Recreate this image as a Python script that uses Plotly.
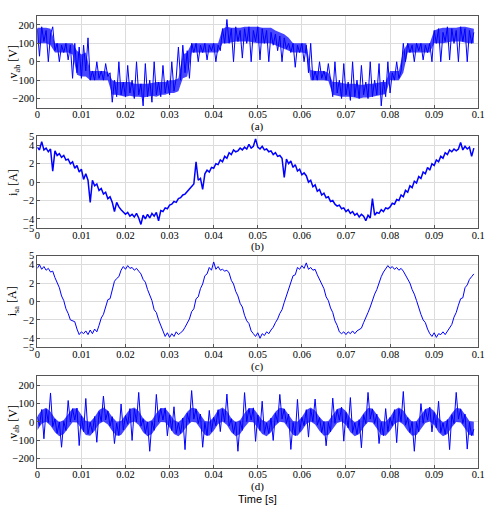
import plotly.graph_objects as go

# sampling step of the read-off values (s)
dt = 0.0005
n_samples = 199
time_s = [round(i * dt, 4) for i in range(n_samples)]
# envelope sampling (s)
dt_env = 0.001
time_env = [round(i * dt_env, 3) for i in range(100)]

# (a) inverter line voltage v_ab [V]
v_ab_a = [180, 30, 190, 110, 170, 0, 150, 190, 60, 100, 0, 90, 50, 100, 10, 90, -90, 100, -60, 80,
          -90, 90, -50, 130, -100, -50, -100, 0, -90, -50, -100, -10, -80, -60, -220, -100, -190, 0, -180, -110,
          -190, -20, -170, -100, -200, 0, -180, -120, -240, -10, -190, -100, -220, 0, -180, -110, -190, -20, -170, -100,
          -180, 0, -160, -90, 80, -100, 90, -60, 60, -90, 100, 50, 100, 0, 90, 50, 100, 10, 90, 60,
          100, 0, 90, 60, 180, 100, 230, 100, 180, 0, 190, 110, 170, 20, 180, 100, 190, 0, 170, 110,
          190, 10, 180, 100, 170, 0, 160, 90, 150, 60, 140, 0, 130, 70, 100, 50, 100, -30, 90, 50,
          100, 0, 90, -60, 100, -100, -50, -100, 0, -90, -50, -100, -10, -110, -190, 0, -170, -100, -200, -10,
          -180, -110, -210, 0, -190, -100, -200, -20, -180, -110, -200, 0, -190, -100, -180, -10, -240, -100, -190, 0,
          -170, -60, -100, 0, -90, -50, 100, 0, 100, 50, 90, 0, 100, 60, 100, 10, 90, 50, 100, 0,
          170, 100, 180, 0, 160, 110, 190, 10, 180, 100, 170, 0, 190, 110, 180, 0, 170, 100, 160]
# dense switching band of (a): upper / lower edge every 1 ms
v_ab_a_hi = [185, 185, 185, 180, 100, 100, 100, 100, 100, 60, 40, 50, -50, -50, -50, -50, -55, -100, -110, -110,
             -110, -110, -120, -120, -120, -120, -115, -110, -110, -110, -100, -100, -90, 40, 50, 100, 100, 100, 100, 100,
             100, 100, 180, 190, 185, 185, 185, 190, 190, 190, 190, 185, 185, 185, 170, 160, 150, 130, 100, 100,
             100, 100, -45, -50, -50, -50, -60, -110, -110, -115, -120, -120, -120, -125, -125, -120, -120, -115, -110, -110,
             -50, -50, -50, 60, 100, 100, 100, 100, 100, 100, 170, 180, 185, 185, 185, 185, 190, 190, 185, 180]
v_ab_a_lo = [100, 100, 100, 90, 50, 50, 50, 50, 40, -70, -80, -80, -100, -100, -100, -100, -100, -180, -180, -185,
             -190, -185, -190, -190, -195, -190, -185, -190, -180, -180, -170, -170, -160, -90, -80, 50, 50, 50, 50, 50,
             50, 50, 100, 100, 105, 110, 110, 110, 110, 105, 100, 100, 100, 100, 90, 80, 70, 60, 50, 50,
             50, 45, -100, -100, -100, -100, -105, -180, -185, -190, -190, -190, -195, -200, -195, -195, -190, -185, -180, -175,
             -100, -100, -100, -60, 50, 50, 50, 50, 50, 50, 100, 100, 100, 105, 110, 110, 110, 105, 100, 100]

# (b) current i_a [A]
i_a = [3.8, 3.5, 4.4, 3.5, 3.7, 3.3, 3.6, 1.2, 3.4, 2.9, 3.1, 2.7, 2.9, 2.4, 2.5, 2.0, 2.2, 1.5, 1.8, 1.1,
       1.4, 0.3, 0.9, 0.2, -2.2, 0.2, -0.4, -0.2, -0.9, -0.7, -1.3, -1.1, -1.8, -1.6, -2.2, -3.2, -2.2, -2.7, -3.0, -3.3,
       -3.5, -3.3, -3.7, -3.5, -3.8, -3.4, -3.9, -4.6, -3.6, -4.0, -3.5, -3.9, -3.4, -3.7, -3.3, -4.2, -3.1, -3.2, -2.8, -2.9,
       -2.5, -2.4, -2.1, -2.2, -1.8, -1.7, -1.4, -1.3, -1.0, -0.8, -0.5, -0.2, 2.2, 0.2, 0.4, -0.8, 0.9, 1.3, 1.1, 1.6,
       1.5, 2.0, 1.9, 2.4, 2.2, 2.8, 2.6, 3.2, 3.0, 3.5, 3.3, 3.4, 3.7, 3.5, 3.8, 3.6, 4.1, 3.7, 3.9, 4.7,
       3.8, 3.6, 3.9, 3.5, 3.6, 3.3, 3.4, 3.0, 3.2, 2.8, 2.9, 2.6, 0.5, 2.5, 2.0, 2.3, 1.6, 1.9, 1.2, 1.4,
       0.8, 1.0, 0.7, 0.0, 0.2, -0.5, -0.3, -1.0, -0.8, -1.4, -1.2, -1.7, -1.6, -2.1, -2.0, -2.4, -2.6, -2.5, -2.9, -2.8,
       -3.2, -3.0, -3.4, -3.2, -3.6, -3.4, -3.8, -3.5, -3.7, -4.2, -3.6, -3.9, -1.8, -3.6, -3.3, -3.4, -3.0, -3.2, -2.8, -2.9,
       -2.7, -2.3, -2.4, -1.9, -2.0, -1.4, -1.6, -0.9, -1.1, -0.4, -0.6, 0.1, -0.1, 0.6, 0.4, 1.1, 0.9, 1.6, 1.3, 2.0,
       1.8, 2.4, 2.2, 2.8, 2.6, 3.2, 3.0, 3.5, 3.3, 3.6, 3.4, 3.6, 4.3, 3.5, 3.9, 3.6, 3.8, 2.8, 3.7]

# (c) current i_sa [A]
i_sa = [3.6, 4.0, 3.5, 3.8, 3.4, 3.6, 3.2, 3.3, 2.6, 2.1, 1.5, 0.6, 0.1, -0.8, -1.3, -2.0, -2.1, -2.2, -3.0, -3.6,
        -3.3, -3.5, -3.2, -3.6, -3.1, -3.5, -3.0, -3.3, -2.6, -1.8, -1.4, -0.5, 0.2, 0.3, 1.2, 2.2, 2.5, 2.7, 3.4, 3.8,
        3.5, 3.9, 3.6, 3.7, 3.4, 3.6, 3.3, 3.0, 2.4, 2.1, 1.3, 0.6, 0.1, -0.9, -1.2, -2.0, -2.6, -3.2, -3.8, -3.4,
        -3.9, -3.5, -3.8, -3.3, -3.6, -3.4, -3.2, -2.8, -2.4, -1.9, -1.1, -0.8, 0.3, 0.5, 1.4, 1.9, 2.8, 3.0, 3.7, 3.4,
        4.3, 3.5, 3.8, 3.4, 3.5, 3.3, 3.4, 3.1, 2.3, 1.9, 1.1, 0.6, -0.2, -0.6, -1.5, -2.1, -2.4, -3.2, -3.5, -3.8,
        -3.4, -4.0, -3.5, -3.7, -3.3, -3.5, -3.1, -2.8, -2.3, -1.9, -1.3, -0.9, -0.1, 0.6, 1.2, 1.9, 2.8, 2.9, 3.7, 3.5,
        3.9, 3.6, 4.2, 3.5, 3.7, 3.4, 3.5, 2.9, 2.4, 1.9, 1.4, 0.5, 0.1, -0.7, -1.2, -2.1, -2.6, -3.3, -3.5, -3.3,
        -3.6, -3.3, -3.5, -3.2, -3.5, -3.2, -3.0, -2.9, -2.3, -1.8, -1.2, -0.6, 0.2, 0.8, 1.3, 2.1, 2.7, 3.2, 3.6, 3.9,
        3.6, 3.8, 3.5, 3.7, 3.4, 3.6, 3.3, 2.9, 2.5, 2.0, 1.3, 0.8, 0.1, -0.7, -1.4, -2.0, -2.3, -3.0, -3.5, -3.8,
        -3.4, -3.9, -3.5, -3.6, -3.3, -3.6, -3.2, -2.9, -2.5, -1.7, -1.2, -0.4, 0.3, 0.4, 1.5, 1.8, 2.4, 2.7, 3.0]

# (d) load voltage [V]
v_ab_d = [27, -20, 67, -92, 69, -3, 157, -26, 16, -63, 0, -138, 2, -47, 116, -1, 71, 10, 75, -129,
          32, -53, 127, -65, -3, -58, 29, -111, 56, 2, 140, 11, 59, -23, 28, -118, -8, -75, 97, -44,
          34, -13, 72, -101, 70, 0, 160, -23, 17, -63, 0, -160, 2, -46, 149, 1, 72, 10, 76, -76,
          37, -47, 82, -63, -5, -63, 21, -151, 47, -3, 170, 15, 70, -9, 42, -138, -3, -75, 62, -53,
          24, -21, 66, -53, 70, 0, 151, -23, 17, -63, 0, -160, 2, -46, 159, 1, 72, 10, 76, -106,
          37, -47, 112, -63, -5, -63, 21, -101, 47, -3, 149, 15, 70, -9, 42, -150, -3, -75, 122, -53,
          24, -21, 66, -83, 70, 1, 124, -18, 23, -58, 2, -130, -3, -54, 129, -8, 67, 9, 80, -105,
          51, -33, 132, -58, -5, -68, 12, -141, 39, -9, 160, 15, 70, -9, 42, -118, -3, -75, 72, -53,
          24, -21, 66, -113, 70, 1, 165, -18, 23, -58, 2, -160, -3, -54, 99, -8, 67, 9, 80, -55,
          51, -33, 112, -58, -5, -68, 12, -151, 39, -9, 160, 15, 70, -9, 42, -148, -3, -75, -40]
# dense switching band of (d): upper / lower edge every 1 ms
v_ab_d_hi = [30, 65, 77, 55, 19, -2, 10, 44, 74, 73, 40, 5, 0, 27, 64, 78, 62, 26, 0, 5,
             37, 70, 78, 59, 20, -2, 10, 47, 75, 74, 45, 10, -2, 19, 55, 77, 73, 40, 5, 0,
             27, 64, 78, 59, 20, -2, 10, 47, 75, 74, 45, 10, -2, 19, 55, 77, 73, 40, 5, 0,
             27, 64, 78, 62, 26, 0, 5, 37, 70, 78, 59, 20, -2, 10, 47, 75, 73, 40, 5, 0,
             27, 64, 78, 62, 26, 0, 5, 37, 70, 78, 59, 20, -2, 10, 47, 75, 73, 40, 5, 0]
v_ab_d_lo = [-46, -11, 1, -21, -57, -78, -66, -32, -2, -3, -36, -71, -76, -49, -12, 2, -14, -50, -76, -71,
             -39, -6, 2, -17, -56, -78, -66, -29, -1, -2, -31, -66, -78, -57, -21, 1, -3, -36, -71, -76,
             -49, -12, 2, -17, -56, -78, -66, -29, -1, -2, -31, -66, -78, -57, -21, 1, -3, -36, -71, -76,
             -49, -12, 2, -14, -50, -76, -71, -39, -6, 2, -17, -56, -78, -66, -29, -1, -3, -36, -71, -76,
             -49, -12, 2, -14, -50, -76, -71, -39, -6, 2, -17, -56, -78, -66, -29, -1, -3, -36, -71, -76]

x_ticks = [0, 0.01, 0.02, 0.03, 0.04, 0.05, 0.06, 0.07, 0.08, 0.09, 0.1]
x_tick_text = ["0", "0.01", "0.02", "0.03", "0.04", "0.05", "0.06", "0.07", "0.08", "0.09", "0.1"]
v_ticks = [-200, -100, 0, 100, 200]
i_ticks = [-5, -4, -2, 0, 2, 4, 5]
captions = ["(a)", "(b)", "(c)", "(d)"]
y_titles = ["v<sub>ab</sub> [V]", "i<sub>a</sub> [A]", "i<sub>sa</sub> [A]", "v<sub>ab</sub> [V]"]
x_title = "Time [s]"

W, H = 498, 512
FONT = "'Liberation Serif', 'Times New Roman', Times, 'DejaVu Serif', serif"
BLUE = "rgb(0,0,255)"
series = [v_ab_a, i_a, i_sa, v_ab_d]
bands = {0: (v_ab_a_hi, v_ab_a_lo), 3: (v_ab_d_hi, v_ab_d_lo)}
line_w = [1, 1.5, 1, 1]
# panel pixel boxes (top, bottom)
boxes = [(11, 105), (134, 228), (256, 350), (379, 473)]
x_left, x_right = 35, 485
ranges = [[-250, 250], [-5, 5], [-5, 5], [-250, 250]]
ytickvals = [v_ticks, i_ticks, i_ticks, v_ticks]

fig = go.Figure()
layout = dict(width=W, height=H, margin=dict(l=0, r=0, t=0, b=0),
              paper_bgcolor="white", plot_bgcolor="white", showlegend=False,
              font=dict(family=FONT, size=10, color="black"))
annotations = []
for k in range(4):
    suffix = "" if k == 0 else str(k + 1)
    xa, ya = "x" + suffix, "y" + suffix
    if k in bands:
        hi, lo = bands[k]
        fig.add_trace(go.Scatter(x=time_env, y=hi, mode="lines", line=dict(width=0, color=BLUE),
                                 xaxis=xa, yaxis=ya, hoverinfo="skip"))
        fig.add_trace(go.Scatter(x=time_env, y=lo, mode="lines", line=dict(width=0, color=BLUE),
                                 fill="tonexty", fillcolor="rgba(0,0,255,0.72)",
                                 xaxis=xa, yaxis=ya, hoverinfo="skip"))
    fig.add_trace(go.Scatter(x=time_s, y=series[k], mode="lines",
                             line=dict(color=BLUE, width=line_w[k]),
                             xaxis=xa, yaxis=ya, hoverinfo="skip"))
    top, bot = boxes[k]
    ax_common = dict(showline=True, linecolor="#555555", linewidth=1, mirror=True,
                     showgrid=True, gridcolor="#dcdcdc", gridwidth=1, zeroline=False,
                     ticks="inside", ticklen=3, tickcolor="#555555",
                     tickfont=dict(family=FONT, size=10.5, color="black"))
    layout["xaxis" + suffix] = dict(domain=[x_left / W, x_right / W], range=[0, 0.1],
                                   tickvals=x_ticks, ticktext=x_tick_text, ticklabelstandoff=-3,
                                   anchor=ya, **ax_common)
    layout["yaxis" + suffix] = dict(domain=[1 - bot / H, 1 - top / H], range=ranges[k],
                                   tickvals=ytickvals[k], anchor=xa, **ax_common)
    cap_y = bot + 19
    annotations.append(dict(text=captions[k], x=260 / W, y=1 - cap_y / H, xref="paper", yref="paper",
                            showarrow=False, font=dict(family=FONT, size=11, color="black"),
                            xanchor="center", yanchor="middle"))
    annotations.append(dict(text=y_titles[k], x=11 / W, y=1 - ((top + bot) / 2) / H, xref="paper",
                            yref="paper", showarrow=False, textangle=-90,
                            font=dict(family=FONT, size=12, color="black"),
                            xanchor="center", yanchor="middle"))
annotations.append(dict(text=x_title, x=260 / W, y=1 - 505 / H, xref="paper", yref="paper",
                        showarrow=False, font=dict(family="'Liberation Sans', Arial, sans-serif", size=11, color="black"),
                        xanchor="center", yanchor="middle"))
layout["annotations"] = annotations
fig.update_layout(**layout)
fig.write_html("out.html")
